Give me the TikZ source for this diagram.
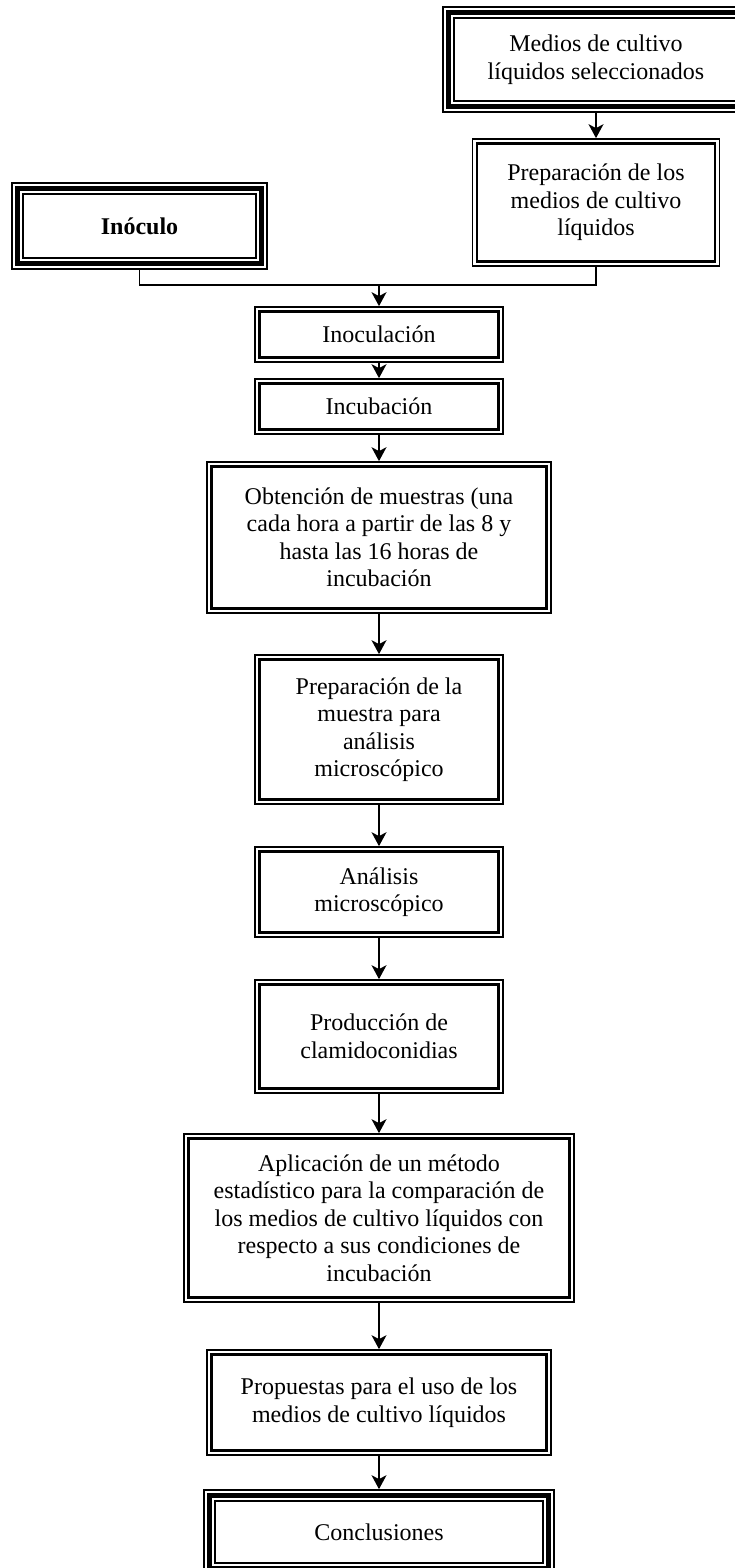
\documentclass[tikz,border=0pt]{standalone}
\usepackage{fontspec}
\setmainfont{Liberation Serif}
\usetikzlibrary{arrows.meta}

\tikzset{
  box/.style={draw, line width=1.7pt, rectangle, inner sep=0pt, align=center,
    font=\fontsize{24}{27.5}\selectfont},
  flow/.style={-{Stealth[length=14pt,width=15pt,inset=4pt]}, line width=1.6pt},
}

\begin{document}
\begin{tikzpicture}[x=1pt, y=-1pt]
    \useasboundingbox (0,0) rectangle (735,1568);
    % start boxes
    \node[box, minimum width=306pt, minimum height=105pt] (medios) at (596,59.5) {Medios de cultivo\\líquidos seleccionados};
    \node[box, minimum width=247pt, minimum height=127pt] (prepm) at (596,202.5) {Preparación de los\\medios de cultivo\\líquidos};
    \node[box, minimum width=255pt, minimum height=86pt] (inoculo) at (139.5,226) {\textbf{Inóculo}};
    \coordinate (join) at (379,285);
    % main column
    \node[box, minimum width=248pt, minimum height=55pt] (inoc) at (379,334.5) {Inoculación};
    \node[box, minimum width=248pt, minimum height=55pt] (incub) at (379,406.5) {Incubación};
    \node[box, minimum width=344pt, minimum height=151pt] (obt) at (379,537.5) {Obtención de muestras (una\\cada hora a partir de las 8 y\\hasta las 16 horas de\\incubación};
    \node[box, minimum width=248pt, minimum height=149pt] (prepmu) at (379,729.5) {Preparación de la\\muestra para\\análisis\\microscópico};
    \node[box, minimum width=248pt, minimum height=90pt] (anal) at (379,892) {Análisis\\microscópico};
    \node[box, minimum width=248pt, minimum height=113pt] (prod) at (379,1036.5) {Producción de\\clamidoconidias};
    \node[box, minimum width=390pt, minimum height=168pt] (aplic) at (379,1218) {Aplicación de un método\\estadístico para la comparación de\\los medios de cultivo líquidos con\\respecto a sus condiciones de\\incubación};
    \node[box, minimum width=344pt, minimum height=105pt] (prop) at (379,1402.5) {Propuestas para el uso de los\\medios de cultivo líquidos};
    \node[box, minimum width=350pt, minimum height=84pt] (concl) at (379,1532) {Conclusiones};

    % thick inner frame of the double boxes
    \foreach \n in {prepm, inoc, incub, obt, prepmu, anal, prod, aplic, prop} {
        \draw[line width=2.6pt] ([shift={(5.5pt,5.5pt)}]\n.south west) rectangle ([shift={(-5.5pt,-5.5pt)}]\n.north east);
    }
    % thick and thin frames of the triple boxes
    \foreach \n in {medios, inoculo, concl} {
        \draw[line width=5pt] ([shift={(6.5pt,6.5pt)}]\n.south west) rectangle ([shift={(-6.5pt,-6.5pt)}]\n.north east);
        \draw[line width=1.7pt] ([shift={(12pt,12pt)}]\n.south west) rectangle ([shift={(-12pt,-12pt)}]\n.north east);
    }

    % connectors
    \draw[flow] (medios.south) -- (prepm.north);
    \draw[line width=1.4pt] (inoculo.south) |- (join) -| (prepm.south);
    \draw[flow] (join) -- (inoc.north);
    \draw[flow] (inoc) -- (incub);
    \draw[flow] (incub) -- (obt);
    \draw[flow] (obt) -- (prepmu);
    \draw[flow] (prepmu) -- (anal);
    \draw[flow] (anal) -- (prod);
    \draw[flow] (prod) -- (aplic);
    \draw[flow] (aplic) -- (prop);
    \draw[flow] (prop) -- (concl);
\end{tikzpicture}
\end{document}
